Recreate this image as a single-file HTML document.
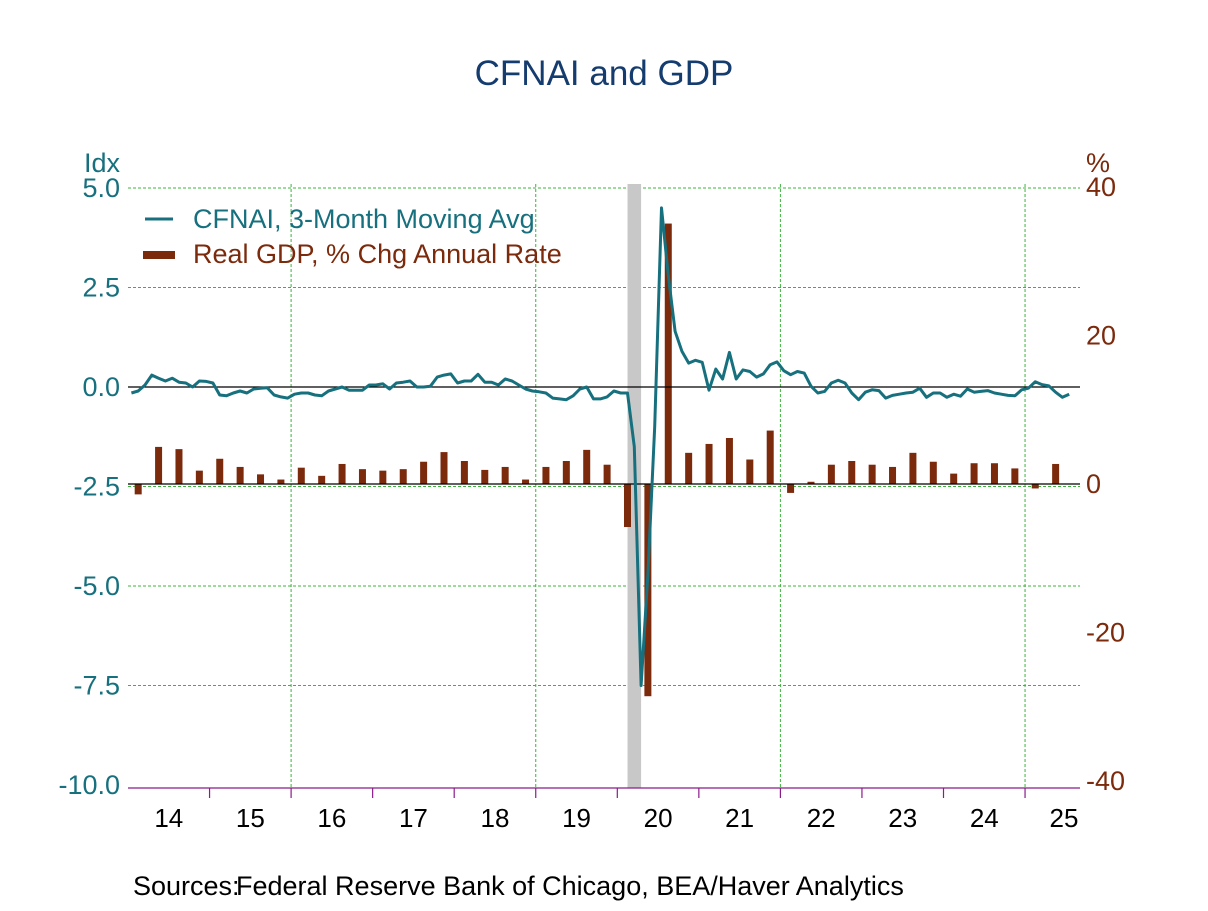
<!DOCTYPE html>
<html><head><meta charset="utf-8"><style>
body{margin:0;background:#fff;}
svg text{font-family:"Liberation Sans",Arial,sans-serif;}
</style></head><body>
<svg id="chart" width="1208" height="906" viewBox="0 0 1208 906" xmlns="http://www.w3.org/2000/svg">
<rect width="1208" height="906" fill="#fff"/>
<text x="604" y="85" text-anchor="middle" font-size="35" fill="#153c6e">CFNAI and GDP</text>
<text x="84" y="172" font-size="27" fill="#17707e">Idx</text>
<text x="1086" y="172" font-size="27" fill="#7b2a0c">%</text>
<g id="grid"></g>
<rect id="recession" fill="#c8c8c8"/>
<g id="bars"></g>
<line id="zero-left" stroke="#000" stroke-width="1.3"/>
<line id="zero-right" stroke="#000" stroke-width="1.3"/>
<path id="cfnai" fill="none" stroke="#17707e" stroke-width="3" stroke-linejoin="round"/>
<g id="axes"></g>
<g>
<line x1="145" y1="219" x2="173" y2="219" stroke="#17707e" stroke-width="3"/>
<text x="193" y="228" font-size="27" fill="#17707e">CFNAI, 3-Month Moving Avg</text>
<rect x="143" y="251" width="32" height="8" fill="#7b2a0c"/>
<text x="193" y="263" font-size="27" fill="#7b2a0c">Real GDP, % Chg Annual Rate</text>
</g>
<text x="133" y="895" font-size="27" fill="#000">Sources:</text>
<text x="236" y="895" font-size="27" fill="#000">Federal Reserve Bank of Chicago, BEA/Haver Analytics</text>
</svg>
<script>
const leftTicks = [5.0, 2.5, 0.0, -2.5, -5.0, -7.5, -10.0];
const rightTicks = [40, 20, 0, -20, -40];
const yearLabels = ["14","15","16","17","18","19","20","21","22","23","24","25"];
const gdp = [-1.4,5.0,4.7,1.8, 3.4,2.3,1.3,0.6, 2.2,1.1,2.7,2.0, 1.8,2.0,3.0,4.3, 3.1,1.9,2.3,0.6,
 2.3,3.1,4.6,2.6, -5.8,-28.6,35.1,4.2, 5.4,6.2,3.3,7.2, -1.2,0.3,2.6,3.1, 2.6,2.3,4.2,3.0,
 1.4,2.8,2.8,2.1, -0.6,2.7];
const cfnai = [
 -0.15,-0.1,0.05,0.3,0.22,0.15,0.22,0.12,0.1,0.0,0.15,0.14,
 0.1,-0.2,-0.22,-0.15,-0.1,-0.15,-0.05,-0.03,-0.02,-0.2,-0.25,-0.28,
 -0.18,-0.15,-0.15,-0.2,-0.22,-0.1,-0.05,0.0,-0.08,-0.08,-0.08,0.05,
 0.05,0.08,-0.05,0.1,0.12,0.15,0.0,0.0,0.02,0.25,0.3,0.33,
 0.1,0.15,0.15,0.32,0.12,0.12,0.05,0.2,0.15,0.05,-0.05,-0.1,
 -0.12,-0.15,-0.28,-0.3,-0.32,-0.22,-0.05,0.0,-0.3,-0.3,-0.25,-0.1,
 -0.15,-0.15,-1.5,-7.5,-4.7,-1.0,4.5,2.8,1.4,0.9,0.6,0.67,
 0.62,-0.08,0.45,0.2,0.87,0.2,0.43,0.39,0.25,0.33,0.56,0.63,
 0.41,0.31,0.39,0.35,0.02,-0.15,-0.11,0.1,0.17,0.1,-0.15,-0.32,
 -0.13,-0.07,-0.09,-0.28,-0.21,-0.18,-0.15,-0.13,-0.03,-0.26,-0.15,-0.15,
 -0.26,-0.18,-0.23,-0.05,-0.13,-0.11,-0.09,-0.15,-0.18,-0.21,-0.22,-0.07,
 -0.03,0.13,0.06,0.03,-0.13,-0.26,-0.18];
const recession = [2020 + 1.5/12, 2020 + 3.5/12];

const X0 = 128, X1 = 1080, YEAR = 81.55, START = 2014;
const xT = t => X0 + (t - START) * YEAR;
const yL = v => 387 - v * 39.8;
const yR = v => 484 - v * 7.42;
const NS = "http://www.w3.org/2000/svg";
function mk(tag, attrs, parent) { const e = document.createElementNS(NS, tag); for (const k in attrs) e.setAttribute(k, attrs[k]); parent.appendChild(e); return e; }

const grid = document.getElementById('grid');
leftTicks.forEach(v => {
  const y = yL(v);
  if (v !== 0 && v > -10) {
    const gl = mk('line', {x1: X0, x2: X1, y1: y, y2: y, stroke: '#3cb43c', 'stroke-width': 1, 'stroke-dasharray': '3,2'}, grid);
    
    
  }
  const t = mk('text', {x: 120, y: y + 9, 'text-anchor': 'end', 'font-size': 27, fill: '#17707e'}, grid);
  t.textContent = v.toFixed(1);
  
  
});
rightTicks.forEach(v => {
  const t = mk('text', {x: 1086, y: yR(v) + 9, 'font-size': 27, fill: '#7b2a0c'}, grid);
  t.textContent = String(v);
  
  
});
[2016, 2019, 2022, 2025].forEach(yr => {
  const x = xT(yr);
  const gl = mk('line', {x1: x, x2: x, y1: 184, y2: 788, stroke: '#3cb43c', 'stroke-width': 1, 'stroke-dasharray': '3,2'}, grid);
  
  
});

const rec = document.getElementById('recession');
rec.setAttribute('x', xT(recession[0]));
rec.setAttribute('width', xT(recession[1]) - xT(recession[0]));
rec.setAttribute('y', 184);
rec.setAttribute('height', 788 - 184);

const bars = document.getElementById('bars');
gdp.forEach((v, i) => {
  const cx = xT(START + (i + 0.5) / 4);
  const y0 = yR(0), y1 = yR(v);
  const b = mk('rect', {x: cx - 3.5, width: 7, y: Math.min(y0, y1), height: Math.max(1.5, Math.abs(y1 - y0)), fill: '#7b2a0c'}, bars);
  
  
});

const zl = document.getElementById('zero-left');
zl.setAttribute('x1', X0); zl.setAttribute('x2', X1); zl.setAttribute('y1', yL(0)); zl.setAttribute('y2', yL(0));
const zr = document.getElementById('zero-right');
zr.setAttribute('x1', X0); zr.setAttribute('x2', X1); zr.setAttribute('y1', yR(0)); zr.setAttribute('y2', yR(0));

document.getElementById('cfnai').setAttribute('d',
  cfnai.map((v, i) => (i ? 'L' : 'M') + xT(START + (i + 0.5) / 12).toFixed(1) + ',' + yL(v).toFixed(1)).join(' '));

const axes = document.getElementById('axes');
const ax = mk('line', {x1: X0, x2: X1, y1: 788, y2: 788, stroke: '#8b1a8b', 'stroke-width': 1.3}, axes);


yearLabels.forEach((lab, i) => {
  const x = xT(START + i);
  if (i > 0) {
    const tk = mk('line', {x1: x, x2: x, y1: 788, y2: 798, stroke: '#8b1a8b', 'stroke-width': 1.2}, axes);
    
    
  }
  const t = mk('text', {x: Math.min(x + YEAR / 2, 1064), y: 827, 'text-anchor': 'middle', 'font-size': 26, fill: '#000'}, axes);
  t.textContent = lab;
  
  
});
</script>
</body></html>
